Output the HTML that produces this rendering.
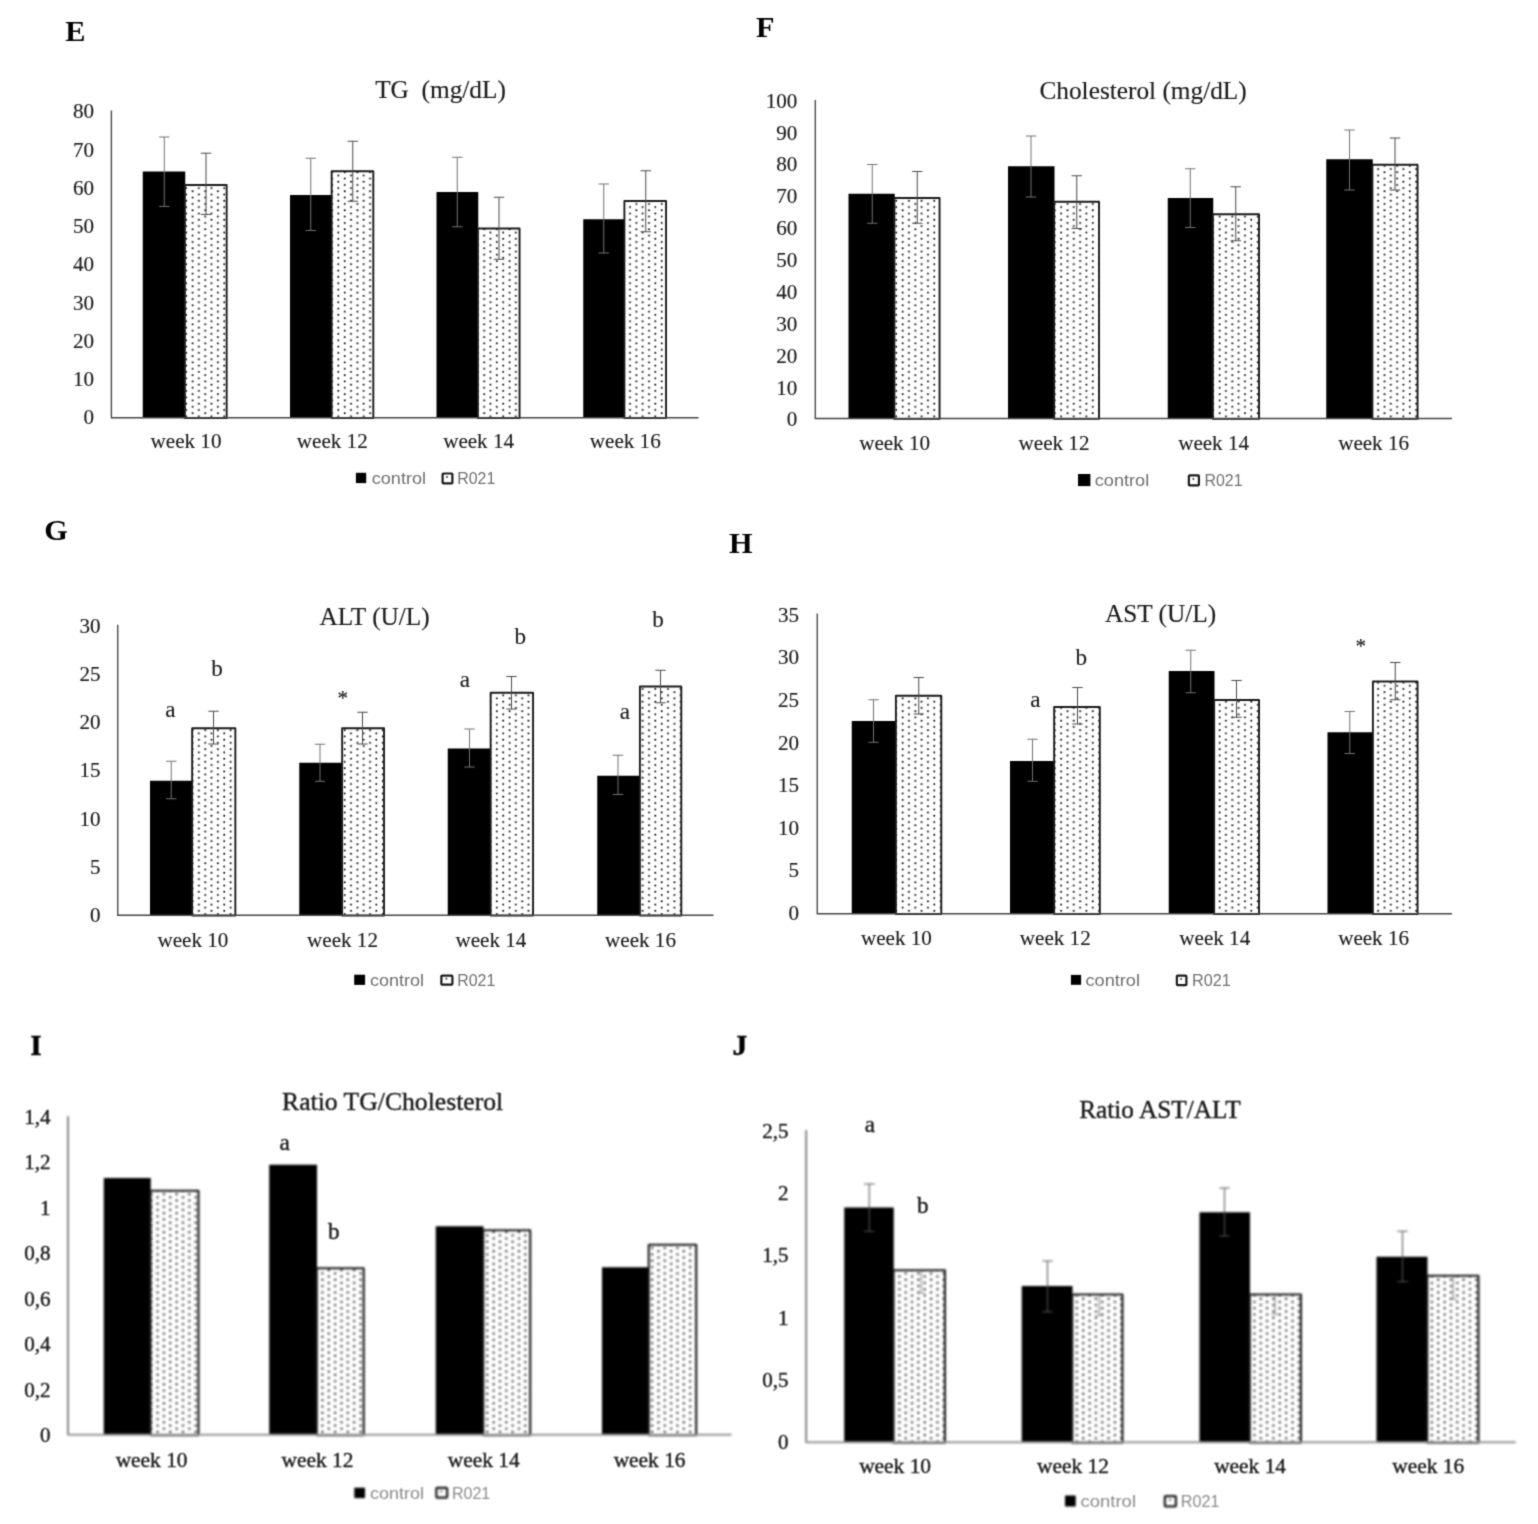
<!DOCTYPE html>
<html lang="en"><head><meta charset="utf-8"><title>Figure panels E-J</title>
<style>html,body{margin:0;padding:0;background:#fff}body{width:1538px;height:1524px;overflow:hidden}svg{display:block}text{font-family:"Liberation Serif", "DejaVu Serif", serif}.s{font-family:"Liberation Sans", "DejaVu Sans", sans-serif}</style></head><body>
<svg width="1538" height="1524" viewBox="0 0 1538 1524">
<defs>
<pattern id="p1" patternUnits="userSpaceOnUse" x="195.7" y="186.5" width="12.68" height="6.34"><rect x="0" y="0" width="12.68" height="6.34" fill="#fff"/><rect x="2.32" y="0.73" width="1.7" height="1.7" fill="#000"/><rect x="8.66" y="3.9" width="1.7" height="1.7" fill="#000"/></pattern>
<pattern id="p2" patternUnits="userSpaceOnUse" x="154.43" y="1195.71" width="12.68" height="6.34"><rect x="0" y="0" width="12.68" height="6.34" fill="#fff"/><rect x="2.25" y="0.66" width="1.85" height="1.85" fill="#000"/><rect x="8.58" y="3.83" width="1.85" height="1.85" fill="#000"/></pattern>
<filter id="b1" x="-2%" y="-2%" width="104%" height="104%" color-interpolation-filters="sRGB"><feConvolveMatrix order="3" kernelMatrix="0.0256 0.1088 0.0256 0.1088 0.4624 0.1088 0.0256 0.1088 0.0256" divisor="1" edgeMode="none" preserveAlpha="false"/></filter>
<filter id="b2" x="-2%" y="-2%" width="104%" height="104%" color-interpolation-filters="sRGB"><feGaussianBlur stdDeviation="0.9"/></filter>
<filter id="b3" x="-2%" y="-2%" width="104%" height="104%" color-interpolation-filters="sRGB"><feConvolveMatrix order="3" kernelMatrix="0.0625 0.1250 0.0625 0.1250 0.2500 0.1250 0.0625 0.1250 0.0625" divisor="1" edgeMode="none" preserveAlpha="false"/></filter>
</defs>
<rect width="1538" height="1524" fill="#fff"/>
<g id="chart-E">
<g filter="url(#b1)">
<rect x="142.75" y="171.5" width="42.5" height="246.25" fill="#000"/>
<rect x="184.9" y="184.95" width="41.75" height="233.2" fill="url(#p1)" stroke="#1a1a1a" stroke-width="1.9" stroke-linejoin="round"/>
<rect x="290" y="195" width="42" height="222.75" fill="#000"/>
<rect x="331.65" y="171.25" width="41.65" height="246.9" fill="url(#p1)" stroke="#1a1a1a" stroke-width="1.9" stroke-linejoin="round"/>
<rect x="436.5" y="192" width="41.75" height="225.75" fill="#000"/>
<rect x="477.9" y="228.45" width="41.65" height="189.7" fill="url(#p1)" stroke="#1a1a1a" stroke-width="1.9" stroke-linejoin="round"/>
<rect x="583.25" y="219.25" width="41.5" height="198.5" fill="#000"/>
<rect x="624.4" y="200.95" width="41.65" height="217.2" fill="url(#p1)" stroke="#1a1a1a" stroke-width="1.9" stroke-linejoin="round"/>
<path d="M111.4 110.4V417.75H698.5" fill="none" stroke="#444" stroke-width="1.35"/>
<path d="M164.3 137V206.4M159.1 137h10.4M159.1 206.4h10.4M310.75 158.25V230.5M305.55 158.25h10.4M305.55 230.5h10.4M457.25 157.25V226.75M452.05 157.25h10.4M452.05 226.75h10.4M603.75 184V253M598.55 184h10.4M598.55 253h10.4" fill="none" stroke="#737373" stroke-width="1.0"/>
<path d="M206 153.2V214.4M200.8 153.2h10.4M200.8 214.4h10.4M352.75 141.25V201.25M347.55 141.25h10.4M347.55 201.25h10.4M499 197.25V259.25M493.8 197.25h10.4M493.8 259.25h10.4M645.75 170.75V231.75M640.55 170.75h10.4M640.55 231.75h10.4" fill="none" stroke="#4a4a4a" stroke-width="1.0"/>
<rect x="355.9" y="472.8" width="10.3" height="10.3" fill="#000"/>
<rect x="442.6" y="473.5" width="9.8" height="9.8" rx="0.8" fill="#fff" stroke="#1a1a1a" stroke-width="2.2"/>
<rect x="446.2" y="476.2" width="1.6" height="1.6" fill="#222"/>
</g>
<g filter="url(#b1)">
<text x="65.2" y="41" font-size="30.3" font-weight="bold" fill="#000">E</text>
<text x="440.5" y="98.4" font-size="25.3" text-anchor="middle" fill="#1c1c1c" stroke="#1c1c1c" stroke-width="0.15" xml:space="preserve">TG  (mg/dL)</text>
<g font-size="21.1" text-anchor="end" fill="#1c1c1c" stroke="#1c1c1c" stroke-width="0.15">
<text x="94" y="424.35">0</text>
<text x="94" y="386.11">10</text>
<text x="94" y="347.88">20</text>
<text x="94" y="309.64">30</text>
<text x="94" y="271.4">40</text>
<text x="94" y="233.16">50</text>
<text x="94" y="194.93">60</text>
<text x="94" y="156.69">70</text>
<text x="94" y="118.45">80</text>
</g>
<g font-size="21.1" text-anchor="middle" fill="#1c1c1c" stroke="#1c1c1c" stroke-width="0.15">
<text x="186" y="448.2">week 10</text>
<text x="332.25" y="448.2">week 12</text>
<text x="478.6" y="448.2">week 14</text>
<text x="625.25" y="448.2">week 16</text>
</g>
<text class="s" x="371.75" y="484" font-size="17.0" fill="#707070" textLength="54.25" lengthAdjust="spacingAndGlyphs">control</text>
<text class="s" x="457.25" y="484" font-size="17.0" fill="#707070" textLength="38" lengthAdjust="spacingAndGlyphs">R021</text>
</g>
</g>
<g id="chart-F">
<g filter="url(#b1)">
<rect x="848.5" y="193.75" width="46.25" height="224.75" fill="#000"/>
<rect x="894.4" y="197.95" width="45.15" height="220.95" fill="url(#p1)" stroke="#1a1a1a" stroke-width="1.9" stroke-linejoin="round"/>
<rect x="1008" y="166.25" width="46.5" height="252.25" fill="#000"/>
<rect x="1054.15" y="201.7" width="44.9" height="217.2" fill="url(#p1)" stroke="#1a1a1a" stroke-width="1.9" stroke-linejoin="round"/>
<rect x="1167.75" y="198" width="45.5" height="220.5" fill="#000"/>
<rect x="1212.9" y="214.2" width="46.15" height="204.7" fill="url(#p1)" stroke="#1a1a1a" stroke-width="1.9" stroke-linejoin="round"/>
<rect x="1326.25" y="159.25" width="46.5" height="259.25" fill="#000"/>
<rect x="1372.4" y="164.7" width="45.15" height="254.2" fill="url(#p1)" stroke="#1a1a1a" stroke-width="1.9" stroke-linejoin="round"/>
<path d="M815.3 100V418.5H1452" fill="none" stroke="#444" stroke-width="1.35"/>
<path d="M872.25 164.5V223.25M867.05 164.5h10.4M867.05 223.25h10.4M1031 136V197M1025.8 136h10.4M1025.8 197h10.4M1190.25 168.75V227.5M1185.05 168.75h10.4M1185.05 227.5h10.4M1349.5 130V190M1344.3 130h10.4M1344.3 190h10.4" fill="none" stroke="#737373" stroke-width="1.0"/>
<path d="M917.25 171.5V223.25M912.05 171.5h10.4M912.05 223.25h10.4M1076.75 175.75V228.5M1071.55 175.75h10.4M1071.55 228.5h10.4M1235.75 186.75V240.75M1230.55 186.75h10.4M1230.55 240.75h10.4M1395 138V190M1389.8 138h10.4M1389.8 190h10.4" fill="none" stroke="#4a4a4a" stroke-width="1.0"/>
<rect x="1078" y="474" width="12.4" height="12.1" fill="#000"/>
<rect x="1188.85" y="475.4" width="10.05" height="10" rx="0.8" fill="#fff" stroke="#1a1a1a" stroke-width="2.2"/>
<rect x="1192.58" y="478.2" width="1.6" height="1.6" fill="#222"/>
</g>
<g filter="url(#b1)">
<text x="756" y="36.6" font-size="30.3" font-weight="bold" fill="#000">F</text>
<text x="1143.1" y="98.9" font-size="25.3" text-anchor="middle" fill="#1c1c1c" stroke="#1c1c1c" stroke-width="0.15" xml:space="preserve">Cholesterol (mg/dL)</text>
<g font-size="21.1" text-anchor="end" fill="#1c1c1c" stroke="#1c1c1c" stroke-width="0.15">
<text x="797.3" y="426.45">0</text>
<text x="797.3" y="394.57">10</text>
<text x="797.3" y="362.69">20</text>
<text x="797.3" y="330.81">30</text>
<text x="797.3" y="298.93">40</text>
<text x="797.3" y="267.05">50</text>
<text x="797.3" y="235.17">60</text>
<text x="797.3" y="203.29">70</text>
<text x="797.3" y="171.41">80</text>
<text x="797.3" y="139.53">90</text>
<text x="797.3" y="107.65">100</text>
</g>
<g font-size="21.1" text-anchor="middle" fill="#1c1c1c" stroke="#1c1c1c" stroke-width="0.15">
<text x="894.6" y="449.9">week 10</text>
<text x="1054" y="449.9">week 12</text>
<text x="1213.6" y="449.9">week 14</text>
<text x="1373.6" y="449.9">week 16</text>
</g>
<text class="s" x="1094.75" y="486.2" font-size="17.0" fill="#707070" textLength="54.5" lengthAdjust="spacingAndGlyphs">control</text>
<text class="s" x="1204.5" y="486.2" font-size="17.0" fill="#707070" textLength="38" lengthAdjust="spacingAndGlyphs">R021</text>
</g>
</g>
<g id="chart-G">
<g filter="url(#b1)">
<rect x="150" y="780.75" width="42.5" height="134.45" fill="#000"/>
<rect x="192.15" y="728.2" width="43.2" height="187.4" fill="url(#p1)" stroke="#1a1a1a" stroke-width="1.9" stroke-linejoin="round"/>
<rect x="299.25" y="762.75" width="43.25" height="152.45" fill="#000"/>
<rect x="342.15" y="728.2" width="41.9" height="187.4" fill="url(#p1)" stroke="#1a1a1a" stroke-width="1.9" stroke-linejoin="round"/>
<rect x="447.75" y="748.5" width="43.25" height="166.7" fill="#000"/>
<rect x="490.65" y="692.7" width="42.4" height="222.9" fill="url(#p1)" stroke="#1a1a1a" stroke-width="1.9" stroke-linejoin="round"/>
<rect x="597.25" y="775.75" width="43" height="139.45" fill="#000"/>
<rect x="639.9" y="686.45" width="41.4" height="229.15" fill="url(#p1)" stroke="#1a1a1a" stroke-width="1.9" stroke-linejoin="round"/>
<path d="M117.75 624.75V915.2H713.5" fill="none" stroke="#444" stroke-width="1.35"/>
<path d="M171.25 761.25V798.75M166.05 761.25h10.4M166.05 798.75h10.4M320 744.25V781.25M314.8 744.25h10.4M314.8 781.25h10.4M469.5 729V767M464.3 729h10.4M464.3 767h10.4M618 755.25V794.5M612.8 755.25h10.4M612.8 794.5h10.4" fill="none" stroke="#737373" stroke-width="1.0"/>
<path d="M213.5 711.25V744M208.3 711.25h10.4M208.3 744h10.4M362.5 712.25V744M357.3 712.25h10.4M357.3 744h10.4M511.5 676.5V709M506.3 676.5h10.4M506.3 709h10.4M660.5 670.25V702.75M655.3 670.25h10.4M655.3 702.75h10.4" fill="none" stroke="#4a4a4a" stroke-width="1.0"/>
<rect x="354.2" y="974.7" width="10.9" height="10.2" fill="#000"/>
<rect x="441.35" y="975.6" width="11.05" height="9.05" rx="0.8" fill="#fff" stroke="#1a1a1a" stroke-width="2.2"/>
<rect x="445.57" y="977.92" width="1.6" height="1.6" fill="#222"/>
</g>
<g filter="url(#b1)">
<text x="44.2" y="540" font-size="30.3" font-weight="bold" fill="#000">G</text>
<text x="374.6" y="624.8" font-size="25.3" text-anchor="middle" fill="#1c1c1c" stroke="#1c1c1c" stroke-width="0.15" xml:space="preserve">ALT (U/L)</text>
<g font-size="21.1" text-anchor="end" fill="#1c1c1c" stroke="#1c1c1c" stroke-width="0.15">
<text x="100.5" y="922.05">0</text>
<text x="100.5" y="873.8">5</text>
<text x="100.5" y="825.55">10</text>
<text x="100.5" y="777.3">15</text>
<text x="100.5" y="729.05">20</text>
<text x="100.5" y="680.8">25</text>
<text x="100.5" y="632.55">30</text>
</g>
<g font-size="21.1" text-anchor="middle" fill="#1c1c1c" stroke="#1c1c1c" stroke-width="0.15">
<text x="192.9" y="946.6">week 10</text>
<text x="342.5" y="946.6">week 12</text>
<text x="490.9" y="946.6">week 14</text>
<text x="640.5" y="946.6">week 16</text>
</g>
<g font-size="23.2" text-anchor="middle" fill="#1c1c1c" stroke="#1c1c1c" stroke-width="0.15">
<text x="170.3" y="717.3">a</text>
<text x="217" y="676">b</text>
<text x="342.7" y="705.3" font-size="21">*</text>
<text x="465" y="687.3">a</text>
<text x="520.3" y="643.5">b</text>
<text x="624.8" y="718.5">a</text>
<text x="658.1" y="627.3">b</text>
</g>
<text class="s" x="370" y="985.6" font-size="17.0" fill="#707070" textLength="54" lengthAdjust="spacingAndGlyphs">control</text>
<text class="s" x="457.25" y="985.6" font-size="17.0" fill="#707070" textLength="38" lengthAdjust="spacingAndGlyphs">R021</text>
</g>
</g>
<g id="chart-H">
<g filter="url(#b1)">
<rect x="851.75" y="721" width="44.5" height="192.7" fill="#000"/>
<rect x="895.9" y="695.7" width="45.4" height="218.4" fill="url(#p1)" stroke="#1a1a1a" stroke-width="1.9" stroke-linejoin="round"/>
<rect x="1010" y="761" width="44.5" height="152.7" fill="#000"/>
<rect x="1054.15" y="706.95" width="45.65" height="207.15" fill="url(#p1)" stroke="#1a1a1a" stroke-width="1.9" stroke-linejoin="round"/>
<rect x="1168.75" y="671" width="45.75" height="242.7" fill="#000"/>
<rect x="1214.15" y="699.95" width="44.9" height="214.15" fill="url(#p1)" stroke="#1a1a1a" stroke-width="1.9" stroke-linejoin="round"/>
<rect x="1327.5" y="732.25" width="45.75" height="181.45" fill="#000"/>
<rect x="1372.9" y="681.45" width="44.65" height="232.65" fill="url(#p1)" stroke="#1a1a1a" stroke-width="1.9" stroke-linejoin="round"/>
<path d="M817.25 613.5V913.7H1452" fill="none" stroke="#444" stroke-width="1.35"/>
<path d="M873.5 699.75V742.25M868.3 699.75h10.4M868.3 742.25h10.4M1032.5 739.25V781.25M1027.3 739.25h10.4M1027.3 781.25h10.4M1190.75 650.25V692.75M1185.55 650.25h10.4M1185.55 692.75h10.4M1349.75 711.5V753.5M1344.55 711.5h10.4M1344.55 753.5h10.4" fill="none" stroke="#737373" stroke-width="1.0"/>
<path d="M918.75 677.5V714M913.55 677.5h10.4M913.55 714h10.4M1077.5 687.5V724M1072.3 687.5h10.4M1072.3 724h10.4M1236.5 680.5V717.25M1231.3 680.5h10.4M1231.3 717.25h10.4M1395.25 662.5V699.75M1390.05 662.5h10.4M1390.05 699.75h10.4" fill="none" stroke="#4a4a4a" stroke-width="1.0"/>
<rect x="1070.9" y="974.9" width="10.2" height="9.9" fill="#000"/>
<rect x="1176.85" y="975.6" width="9.55" height="9.55" rx="0.8" fill="#fff" stroke="#1a1a1a" stroke-width="2.2"/>
<rect x="1180.33" y="978.17" width="1.6" height="1.6" fill="#222"/>
</g>
<g filter="url(#b1)">
<text x="729" y="553.3" font-size="30.3" font-weight="bold" fill="#000">H</text>
<text x="1160.6" y="622.3" font-size="25.3" text-anchor="middle" fill="#1c1c1c" stroke="#1c1c1c" stroke-width="0.15" xml:space="preserve">AST (U/L)</text>
<g font-size="21.1" text-anchor="end" fill="#1c1c1c" stroke="#1c1c1c" stroke-width="0.15">
<text x="799" y="920.05">0</text>
<text x="799" y="877.45">5</text>
<text x="799" y="834.85">10</text>
<text x="799" y="792.25">15</text>
<text x="799" y="749.65">20</text>
<text x="799" y="707.05">25</text>
<text x="799" y="664.45">30</text>
<text x="799" y="621.85">35</text>
</g>
<g font-size="21.1" text-anchor="middle" fill="#1c1c1c" stroke="#1c1c1c" stroke-width="0.15">
<text x="896.4" y="945.4">week 10</text>
<text x="1055.25" y="945.4">week 12</text>
<text x="1214.75" y="945.4">week 14</text>
<text x="1373.6" y="945.4">week 16</text>
</g>
<g font-size="23.2" text-anchor="middle" fill="#1c1c1c" stroke="#1c1c1c" stroke-width="0.15">
<text x="1035.5" y="707.3">a</text>
<text x="1081.4" y="664.8">b</text>
<text x="1360.75" y="653" font-size="21">*</text>
</g>
<text class="s" x="1085.5" y="985.8" font-size="17.0" fill="#707070" textLength="54.5" lengthAdjust="spacingAndGlyphs">control</text>
<text class="s" x="1192" y="985.8" font-size="17.0" fill="#707070" textLength="38.75" lengthAdjust="spacingAndGlyphs">R021</text>
</g>
</g>
<g id="chart-I">
<g filter="url(#b2)">
<rect x="103.75" y="1178" width="47" height="256.7" fill="#000"/>
<rect x="150.5" y="1190.8" width="47.95" height="244.3" fill="url(#p2)" stroke="#1a1a1a" stroke-width="2.1" stroke-linejoin="round"/>
<rect x="269.25" y="1164.75" width="47.75" height="269.95" fill="#000"/>
<rect x="316.75" y="1268.3" width="46.95" height="166.8" fill="url(#p2)" stroke="#1a1a1a" stroke-width="2.1" stroke-linejoin="round"/>
<rect x="435.75" y="1226.25" width="47.75" height="208.45" fill="#000"/>
<rect x="483.25" y="1230.3" width="46.95" height="204.8" fill="url(#p2)" stroke="#1a1a1a" stroke-width="2.1" stroke-linejoin="round"/>
<rect x="602" y="1267.25" width="47" height="167.45" fill="#000"/>
<rect x="648.75" y="1244.8" width="47.45" height="190.3" fill="url(#p2)" stroke="#1a1a1a" stroke-width="2.1" stroke-linejoin="round"/>
<path d="M68 1116.2V1434.7" fill="none" stroke="#707070" stroke-width="1.7"/>
<path d="M67.2 1434.7H731.5" fill="none" stroke="#959595" stroke-width="2.0"/>
<rect x="354.3" y="1487.7" width="10.7" height="10.4" fill="#000"/>
<rect x="436.35" y="1487.85" width="10.8" height="9.8" rx="0.8" fill="#fff" stroke="#1a1a1a" stroke-width="2.2"/>
<rect x="440.45" y="1490.55" width="1.6" height="1.6" fill="#222"/>
</g>
<g filter="url(#b3)">
<text x="30.2" y="1055.2" font-size="29.6" font-weight="bold" fill="#000" stroke="#000" stroke-width="0.4">I</text>
<text x="392.6" y="1110" font-size="25.679499999999997" text-anchor="middle" fill="#1c1c1c" stroke="#1c1c1c" stroke-width="0.4" xml:space="preserve">Ratio TG/Cholesterol</text>
<g font-size="21.1" text-anchor="end" fill="#1c1c1c" stroke="#1c1c1c" stroke-width="0.4">
<text x="50.5" y="1442.45">0</text>
<text x="50.5" y="1396.95">0,2</text>
<text x="50.5" y="1351.45">0,4</text>
<text x="50.5" y="1305.95">0,6</text>
<text x="50.5" y="1260.45">0,8</text>
<text x="50.5" y="1214.95">1</text>
<text x="50.5" y="1169.45">1,2</text>
<text x="50.5" y="1123.95">1,4</text>
</g>
<g font-size="21.42" text-anchor="middle" fill="#1c1c1c" stroke="#1c1c1c" stroke-width="0.4">
<text x="151.6" y="1467.1">week 10</text>
<text x="317.4" y="1467.1">week 12</text>
<text x="483.75" y="1467.1">week 14</text>
<text x="649.6" y="1467.1">week 16</text>
</g>
<g font-size="23.2" text-anchor="middle" fill="#1c1c1c" stroke="#1c1c1c" stroke-width="0.4">
<text x="284.6" y="1149.8">a</text>
<text x="333.7" y="1239.2">b</text>
</g>
<text class="s" x="370" y="1498.6" font-size="17.0" fill="#8c8c8c" textLength="54" lengthAdjust="spacingAndGlyphs">control</text>
<text class="s" x="452" y="1498.6" font-size="17.0" fill="#8c8c8c" textLength="38.25" lengthAdjust="spacingAndGlyphs">R021</text>
</g>
</g>
<g id="chart-J">
<g filter="url(#b2)">
<rect x="844.25" y="1207.5" width="49.5" height="234.8" fill="#000"/>
<rect x="893.5" y="1270.3" width="51.45" height="172.4" fill="url(#p2)" stroke="#1a1a1a" stroke-width="2.1" stroke-linejoin="round"/>
<rect x="1021.75" y="1286" width="50.75" height="156.3" fill="#000"/>
<rect x="1072.25" y="1294.55" width="50.2" height="148.15" fill="url(#p2)" stroke="#1a1a1a" stroke-width="2.1" stroke-linejoin="round"/>
<rect x="1199.5" y="1212.25" width="50.5" height="230.05" fill="#000"/>
<rect x="1249.75" y="1294.55" width="51.2" height="148.15" fill="url(#p2)" stroke="#1a1a1a" stroke-width="2.1" stroke-linejoin="round"/>
<rect x="1376.5" y="1256.75" width="51" height="185.55" fill="#000"/>
<rect x="1427.25" y="1275.8" width="51.2" height="166.9" fill="url(#p2)" stroke="#1a1a1a" stroke-width="2.1" stroke-linejoin="round"/>
<path d="M806.2 1130V1442.3" fill="none" stroke="#707070" stroke-width="1.7"/>
<path d="M805.4 1442.3H1515.75" fill="none" stroke="#959595" stroke-width="2.1"/>
<path d="M869.25 1184V1231.25M864.05 1184h10.4M864.05 1231.25h10.4M1047.5 1261V1311.75M1042.3 1261h10.4M1042.3 1311.75h10.4M1224.5 1188V1236M1219.3 1188h10.4M1219.3 1236h10.4M1402.5 1231.25V1281.75M1397.3 1231.25h10.4M1397.3 1281.75h10.4" fill="none" stroke="#555" stroke-width="1.05"/>
<path d="M921.25 1271V1293M917.25 1293h8M1099.25 1295V1315.5M1095.25 1315.5h8M1275 1295V1314.25M1271 1314.25h8M1453.25 1276.5V1299.25M1449.25 1299.25h8" fill="none" stroke="#777" stroke-width="1.2" opacity="0.8"/>
<rect x="1065" y="1495.5" width="10.7" height="11" fill="#000"/>
<rect x="1164.85" y="1496.1" width="11.05" height="10.3" rx="0.8" fill="#fff" stroke="#1a1a1a" stroke-width="2.2"/>
<rect x="1169.08" y="1499.05" width="1.6" height="1.6" fill="#222"/>
</g>
<g filter="url(#b3)">
<text x="732.6" y="1054.8" font-size="29.6" font-weight="bold" fill="#000" stroke="#000" stroke-width="0.4">J</text>
<text x="1159.9" y="1117.8" font-size="25.3" text-anchor="middle" fill="#1c1c1c" stroke="#1c1c1c" stroke-width="0.4" xml:space="preserve">Ratio AST/ALT</text>
<g font-size="21.1" text-anchor="end" fill="#1c1c1c" stroke="#1c1c1c" stroke-width="0.4">
<text x="788.5" y="1449.15">0</text>
<text x="788.5" y="1386.85">0,5</text>
<text x="788.5" y="1324.55">1</text>
<text x="788.5" y="1262.25">1,5</text>
<text x="788.5" y="1199.95">2</text>
<text x="788.5" y="1137.65">2,5</text>
</g>
<g font-size="21.42" text-anchor="middle" fill="#1c1c1c" stroke="#1c1c1c" stroke-width="0.4">
<text x="895.1" y="1473.1">week 10</text>
<text x="1073" y="1473.1">week 12</text>
<text x="1250.1" y="1473.1">week 14</text>
<text x="1428.25" y="1473.1">week 16</text>
</g>
<g font-size="23.2" text-anchor="middle" fill="#1c1c1c" stroke="#1c1c1c" stroke-width="0.4">
<text x="870" y="1132.3">a</text>
<text x="922.7" y="1213">b</text>
</g>
<text class="s" x="1080.5" y="1506.6" font-size="17.0" fill="#8c8c8c" textLength="55.5" lengthAdjust="spacingAndGlyphs">control</text>
<text class="s" x="1180.75" y="1506.6" font-size="17.0" fill="#8c8c8c" textLength="38.75" lengthAdjust="spacingAndGlyphs">R021</text>
</g>
</g>
</svg></body></html>
